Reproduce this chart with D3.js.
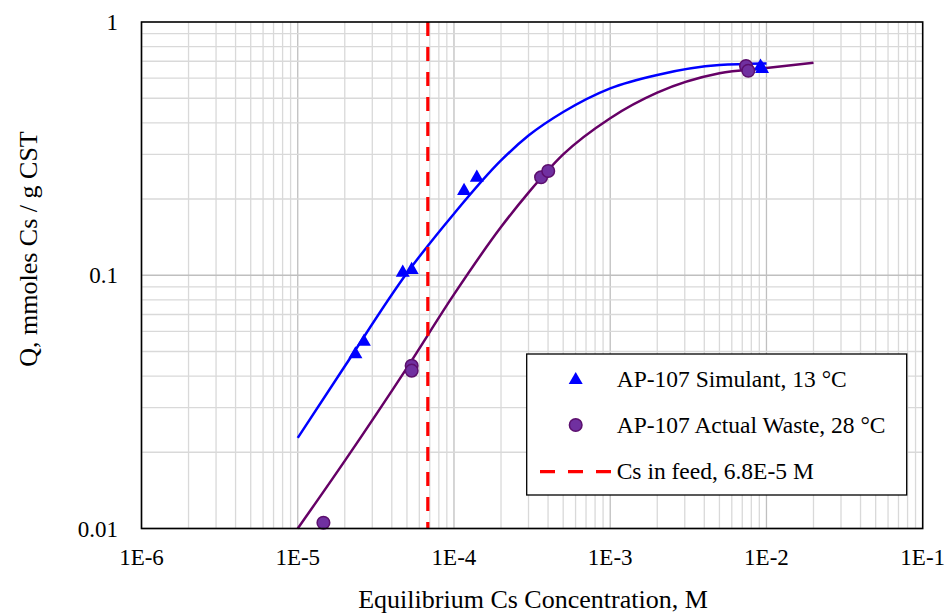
<!DOCTYPE html>
<html>
<head>
<meta charset="utf-8">
<script src="https://cdn.jsdelivr.net/npm/d3@7"></script>
<style>
  body { margin: 0; background: #fff; }
  text { font-family: "Liberation Serif", "Times New Roman", serif; fill: #000; }
</style>
</head>
<body>
<div id="chart"></div>
<script>
const simC = [2.34e-5, 2.65e-5, 4.70e-5, 5.36e-5, 1.16e-4, 1.40e-4, 9.16e-3, 9.37e-3];
const simQ = [0.0492, 0.0551, 0.1033, 0.1059, 0.2172, 0.2450, 0.673, 0.658];
const wasteC = [1.46e-5, 5.36e-5, 5.36e-5, 3.61e-4, 4.01e-4, 7.40e-3, 7.65e-3];
const wasteQ = [0.01054, 0.0439, 0.0420, 0.2436, 0.258, 0.670, 0.642];

// Fitted isotherm curves
const simFitC = [1e-5, 2e-5, 5e-5, 1e-4, 2e-4, 3e-4, 5e-4, 1e-3, 2e-3, 5e-3, 1e-2];
const simFitQ = [0.0228, 0.0437, 0.102, 0.175, 0.284, 0.356, 0.441, 0.547, 0.618, 0.676, 0.686];
const wasteFitC = [1e-5, 2e-5, 5e-5, 1e-4, 2e-4, 3e-4, 5e-4, 1e-3, 2e-3, 5e-3, 1e-2, 2e-2];
const wasteFitQ = [0.0100, 0.0185, 0.0431, 0.084, 0.155, 0.212, 0.300, 0.417, 0.526, 0.627, 0.658, 0.691];

// Cs in feed
const feedC = 6.8e-5;

const xTicks = [1e-6, 1e-5, 1e-4, 1e-3, 1e-2, 1e-1];
const xTickLabels = ["1E-6", "1E-5", "1E-4", "1E-3", "1E-2", "1E-1"];
const yTicks = [0.01, 0.1, 1];
const yTickLabels = ["0.01", "0.1", "1"];

const legendLabels = ["AP-107 Simulant, 13 °C", "AP-107 Actual Waste, 28 °C", "Cs in feed, 6.8E-5 M"];

const width = 945, height = 615;
const margins = {top: 22, right: 22.3, bottom: 86.5, left: 141.5};

const svg = d3.select("#chart")
  .append("svg")
    .attr("width", width)
    .attr("height", height)
    .attr("viewBox", [0, 0, width, height]);

const xScale = d3.scaleLog()
  .domain([1e-6, 1e-1])
  .range([margins.left, width - margins.right]);

const yScale = d3.scaleLog()
  .domain([0.01, 1])
  .range([height - margins.bottom, margins.top]);

// Grid lines: minor 2..9 in each decade, major on decades
const xGrid = [];
for (let e = -6; e <= -2; e++) for (let k = 1; k <= 9; k++) xGrid.push(k * Math.pow(10, e));
const yGrid = [];
for (let e = -2; e <= -1; e++) for (let k = 1; k <= 9; k++) yGrid.push(k * Math.pow(10, e));

const grid = svg.append("g").attr("class", "grid");
grid.selectAll("line.vx")
  .data(xGrid)
  .join("line")
    .attr("x1", d => xScale(d)).attr("x2", d => xScale(d))
    .attr("y1", yScale(1)).attr("y2", yScale(0.01))
    .attr("stroke", (d, i) => i % 9 === 0 ? "#bfbfbf" : "#d9d9d9")
    .attr("stroke-width", 1.3);
grid.selectAll("line.hy")
  .data(yGrid)
  .join("line")
    .attr("y1", d => yScale(d)).attr("y2", d => yScale(d))
    .attr("x1", xScale(1e-6)).attr("x2", xScale(1e-1))
    .attr("stroke", (d, i) => i % 9 === 0 ? "#bfbfbf" : "#d9d9d9")
    .attr("stroke-width", 1.3);

// Fitted curves
const line = d3.line()
  .x(d => xScale(d[0]))
  .y(d => yScale(d[1]))
  .curve(d3.curveMonotoneX);

svg.append("path")
  .datum(simFitC.map((c, i) => [c, simFitQ[i]]))
  .attr("d", line)
  .attr("fill", "none")
  .attr("stroke", "#0000ff")
  .attr("stroke-width", 2.5);

svg.append("path")
  .datum(wasteFitC.map((c, i) => [c, wasteFitQ[i]]))
  .attr("d", line)
  .attr("fill", "none")
  .attr("stroke", "#660066")
  .attr("stroke-width", 2.5);

// Feed concentration line
svg.append("line")
  .attr("x1", xScale(feedC)).attr("x2", xScale(feedC))
  .attr("y1", yScale(1)).attr("y2", yScale(0.01))
  .attr("stroke", "#ff0000")
  .attr("stroke-width", 3.2)
  .attr("stroke-dasharray", "14,11");

// Markers
const tri = d3.symbol().type(d3.symbolTriangle).size(85);

svg.append("g")
  .selectAll("path")
  .data(simC.map((c, i) => [c, simQ[i]]))
  .join("path")
    .attr("d", tri)
    .attr("transform", d => `translate(${xScale(d[0])},${yScale(d[1]) + 1})`)
    .attr("fill", "#0000ff");

svg.append("g")
  .selectAll("circle")
  .data(wasteC.map((c, i) => [c, wasteQ[i]]))
  .join("circle")
    .attr("cx", d => xScale(d[0]))
    .attr("cy", d => yScale(d[1]))
    .attr("r", 6.3)
    .attr("fill", "#7030a0")
    .attr("stroke", "#5c0f6e")
    .attr("stroke-width", 1.5);

// Frame
svg.append("rect")
  .attr("x", xScale(1e-6)).attr("y", yScale(1))
  .attr("width", xScale(1e-1) - xScale(1e-6))
  .attr("height", yScale(0.01) - yScale(1))
  .attr("fill", "none")
  .attr("stroke", "#000")
  .attr("stroke-width", 1.6);

// Tick labels
svg.append("g")
  .selectAll("text")
  .data(xTicks)
  .join("text")
    .attr("x", d => xScale(d))
    .attr("y", 565)
    .attr("text-anchor", "middle")
    .attr("font-size", 23)
    .text((d, i) => xTickLabels[i]);

svg.append("g")
  .selectAll("text")
  .data(yTicks)
  .join("text")
    .attr("x", 118)
    .attr("y", d => yScale(d) + 8)
    .attr("text-anchor", "end")
    .attr("font-size", 23)
    .text((d, i) => yTickLabels[i]);

// Axis titles
svg.append("text")
  .attr("x", 533)
  .attr("y", 608)
  .attr("text-anchor", "middle")
  .attr("font-size", 26)
  .text("Equilibrium Cs Concentration, M");

svg.append("text")
  .attr("transform", "translate(37,249) rotate(-90)")
  .attr("text-anchor", "middle")
  .attr("font-size", 26)
  .text("Q, mmoles Cs / g CST");

// Legend
const legend = svg.append("g");
legend.append("rect")
  .attr("x", 526.7).attr("y", 354)
  .attr("width", 380).attr("height", 141)
  .attr("fill", "#fff")
  .attr("stroke", "#000")
  .attr("stroke-width", 1.3);

legend.append("path")
  .attr("d", tri)
  .attr("transform", "translate(575.7,380)")
  .attr("fill", "#0000ff");
legend.append("circle")
  .attr("cx", 575.7).attr("cy", 425)
  .attr("r", 6.3)
  .attr("fill", "#7030a0")
  .attr("stroke", "#5c0f6e")
  .attr("stroke-width", 1.5);
legend.append("line")
  .attr("x1", 540).attr("x2", 611)
  .attr("y1", 471.7).attr("y2", 471.7)
  .attr("stroke", "#ff0000")
  .attr("stroke-width", 3.2)
  .attr("stroke-dasharray", "15,13");

legend.selectAll("text")
  .data(legendLabels)
  .join("text")
    .attr("x", 616.7)
    .attr("y", (d, i) => [386.7, 432.7, 479.3][i])
    .attr("font-size", 23.5)
    .text(d => d);
</script>
</body>
</html>
